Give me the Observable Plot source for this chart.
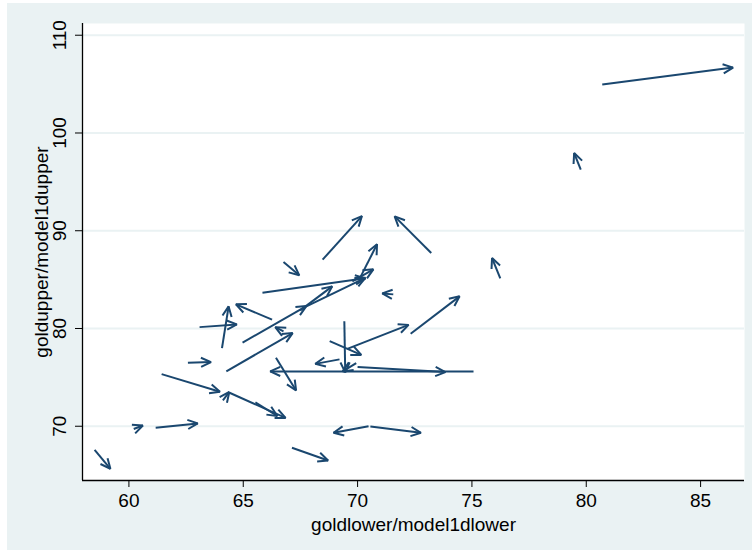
<!DOCTYPE html>
<html>
<head>
<meta charset="utf-8">
<script src="https://cdn.jsdelivr.net/npm/d3@7"></script>
<script src="https://cdn.jsdelivr.net/npm/@observablehq/plot@0.6"></script>
<style>
  html, body { margin: 0; padding: 0; background: #ffffff; }
  #chart { position: absolute; left: 7px; top: 3px; }
</style>
</head>
<body>
<div id="chart"></div>
<script>
// Arrow tails (goldlower, goldupper) and heads (model1dlower, model1dupper)
const goldlower   = [80.70, 79.76, 73.22, 76.24, 68.47, 66.76, 67.49, 67.76, 65.84, 70.14, 69.77, 71.56, 72.32, 69.55, 69.42, 68.78, 69.21, 75.07, 70.00, 69.94, 66.43, 70.48, 70.56, 67.13, 58.50, 60.21, 61.17, 61.43, 64.11, 64.40, 65.53, 62.58, 64.26, 64.07, 63.09, 66.26, 66.76, 64.97];
const goldupper   = [104.95, 96.25, 87.72, 85.13, 87.04, 86.80, 81.85, 82.26, 83.66, 85.33, 84.82, 83.49, 79.47, 77.91, 80.73, 78.71, 76.84, 75.61, 76.05, 76.46, 77.01, 70.01, 69.98, 67.80, 67.59, 69.72, 69.85, 75.33, 72.64, 73.43, 72.44, 76.50, 75.61, 78.00, 80.14, 80.90, 79.70, 78.55];
const model1dlower = [86.42, 79.47, 71.62, 75.88, 70.19, 67.45, 68.89, 70.34, 70.34, 70.85, 70.69, 71.08, 74.46, 72.23, 69.46, 70.16, 68.15, 66.18, 73.84, 69.35, 67.31, 68.95, 72.77, 68.71, 59.19, 60.61, 63.01, 63.98, 64.39, 66.85, 66.49, 63.59, 67.16, 64.36, 64.72, 64.68, 66.40, 67.76];
const model1dupper = [106.69, 97.95, 91.47, 87.21, 91.50, 85.44, 84.31, 85.18, 85.13, 88.61, 86.05, 83.59, 83.29, 80.37, 75.51, 77.30, 76.38, 75.61, 75.54, 75.61, 73.66, 69.33, 69.33, 66.50, 65.65, 70.08, 70.29, 73.53, 73.51, 70.85, 71.05, 76.56, 79.53, 82.26, 80.42, 82.47, 80.14, 82.29];

const xTicks = [60, 65, 70, 75, 80, 85];
const yTicks = [70, 80, 90, 100, 110];
const xTitle = "goldlower/model1dlower";
const yTitle = "goldupper/model1dupper";
const xDomain = [57.97, 86.92];
const yDomain = [64.45, 111.2];

const arrows = goldlower.map((d, i) => ({
  x1: d, y1: goldupper[i], x2: model1dlower[i], y2: model1dupper[i]
}));

const navy = "#1a476f";
const bg = "#eaf2f3";

function barb(color) {
  const ns = "http://www.w3.org/2000/svg";
  const m = document.createElementNS(ns, "marker");
  m.setAttribute("viewBox", "-13 -7 16 14");
  m.setAttribute("markerWidth", 16);
  m.setAttribute("markerHeight", 14);
  m.setAttribute("markerUnits", "userSpaceOnUse");
  m.setAttribute("refX", 0);
  m.setAttribute("refY", 0);
  m.setAttribute("orient", "auto");
  m.setAttribute("overflow", "visible");
  const p = document.createElementNS(ns, "path");
  p.setAttribute("d", "M-10,-4.6L0,0L-10,4.6");
  p.setAttribute("fill", "none");
  p.setAttribute("stroke", color);
  p.setAttribute("stroke-width", 2);
  p.setAttribute("stroke-linejoin", "miter");
  m.appendChild(p);
  return m;
}

function build(useMarker) {
  const arrowMark = useMarker
    ? Plot.link(arrows, {x1: "x1", y1: "y1", x2: "x2", y2: "y2", stroke: navy, strokeWidth: 2, markerEnd: barb})
    : Plot.arrow(arrows, {x1: "x1", y1: "y1", x2: "x2", y2: "y2", stroke: navy, strokeWidth: 2, headLength: 7, headAngle: 50});
  return Plot.plot({
    width: 745,
    height: 547,
    marginLeft: 75,
    marginRight: 8,
    marginTop: 20,
    marginBottom: 70,
    style: {fontFamily: "'Liberation Sans', Arial, sans-serif", fontSize: "19px", background: bg, color: "#000", overflow: "visible"},
    x: {domain: xDomain, label: null},
    y: {domain: yDomain, label: null},
    marks: [
      Plot.frame({fill: "white", stroke: null}),
      Plot.gridY(yTicks, {stroke: bg, strokeOpacity: 1, strokeWidth: 2}),
      arrowMark,
      Plot.ruleX([xDomain[0]], {stroke: "#000", strokeWidth: 1.3}),
      Plot.ruleY([yDomain[0]], {stroke: "#000", strokeWidth: 1.3}),
      Plot.axisX({ticks: xTicks, tickSize: 7, tickPadding: 6, stroke: "#000", fontSize: 19, label: null}),
      Plot.axisY({ticks: yTicks, tickSize: 7, tickFormat: () => "", stroke: "#000", label: null}),
      Plot.text(yTicks, {x: xDomain[0], y: (d) => d, text: (d) => String(d), rotate: -90, dx: -17, lineAnchor: "bottom", textAnchor: "middle", fontSize: 19}),
      Plot.text([yTitle], {frameAnchor: "left", text: (d) => d, rotate: -90, dx: -35, lineAnchor: "bottom", textAnchor: "middle", fontSize: 19}),
      Plot.text([xTitle], {frameAnchor: "bottom", text: (d) => d, dy: 50, lineAnchor: "bottom", textAnchor: "middle", fontSize: 19})
    ]
  });
}

let chart;
try { chart = build(true); } catch (e) { chart = build(false); }
document.getElementById("chart").appendChild(chart);
</script>
</body>
</html>
